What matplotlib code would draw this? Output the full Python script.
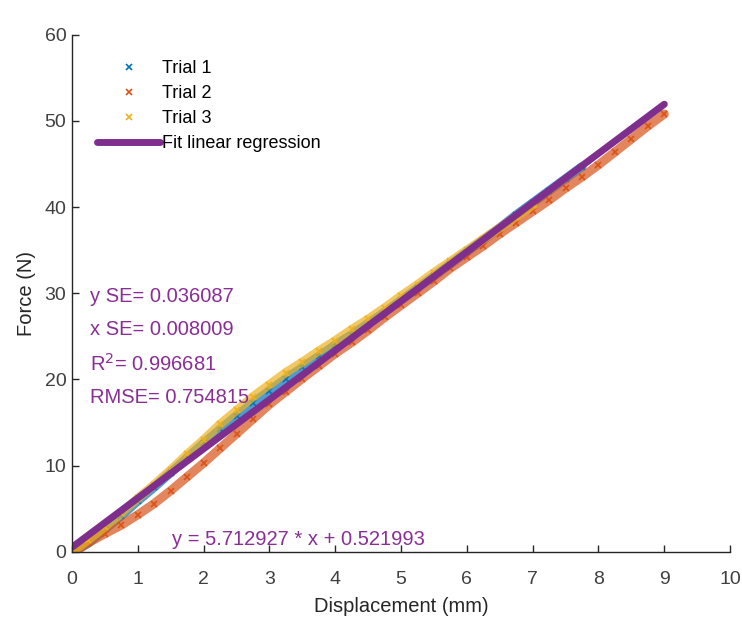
import matplotlib.pyplot as plt

plt.rcParams['font.family'] = ['Liberation Sans', 'DejaVu Sans']

# Displacement (mm) / force (N) readings for the three trials
x1 = [0, 0.25, 0.5, 0.75, 1, 1.25, 1.5, 1.75, 2, 2.25, 2.5, 2.75, 3, 3.25, 3.5, 3.75,
      4, 4.25, 4.5, 4.75, 5, 5.25, 5.5, 5.75, 6, 6.25, 6.5, 6.75, 7, 7.25, 7.5, 7.75]
f1 = [0, 1.0, 2.6, 4.2, 5.9, 7.5, 9.2, 10.9, 12.6, 14.2, 15.8, 17.3, 18.7, 20.1, 21.4, 22.7,
      24.0, 25.2, 26.5, 27.8, 29.2, 30.6, 32.0, 33.4, 34.8, 36.2, 37.6, 39.1, 40.5, 41.9, 43.3, 44.7]

x2 = [0.05, 0.25, 0.5, 0.75, 1, 1.25, 1.5, 1.75, 2, 2.25, 2.5, 2.75, 3, 3.25, 3.5, 3.75,
      4, 4.25, 4.5, 4.75, 5, 5.25, 5.5, 5.75, 6, 6.25, 6.5, 6.75, 7, 7.25, 7.5, 7.75,
      8, 8.25, 8.5, 8.75, 9]
f2 = [0, 1.05, 2.1, 3.1, 4.3, 5.6, 7.1, 8.7, 10.3, 12.0, 13.7, 15.4, 17.1, 18.6, 20.1, 21.55,
      23.0, 24.3, 25.7, 27.2, 28.6, 30.0, 31.4, 32.9, 34.2, 35.5, 36.9, 38.2, 39.5, 40.8, 42.2, 43.5,
      44.9, 46.4, 47.9, 49.4, 50.8]

x3 = [0, 0.25, 0.5, 0.75, 1, 1.25, 1.5, 1.75, 2, 2.25, 2.5, 2.75, 3, 3.25, 3.5, 3.75,
      4, 4.25, 4.5, 4.75, 5, 5.25, 5.5, 5.75, 6, 6.25, 6.5, 6.75, 7]
f3 = [0, 1.4, 2.9, 4.5, 6.2, 7.8, 9.5, 11.3, 13.0, 14.8, 16.4, 18.0, 19.4, 20.8, 22.0, 23.3,
      24.5, 25.8, 27.0, 28.3, 29.7, 31.0, 32.4, 33.7, 35.0, 36.3, 37.6, 38.9, 40.2]

# Linear fit results
slope = 5.712927
intercept = 0.521993
fit_x = [0, 9]
y_se = 0.036087
x_se = 0.008009
r2 = 0.996681
rmse = 0.754815

c_blue = '#0072BD'
c_orange = '#D95319'
c_yellow = '#EDB120'
c_purple = '#7E2F8E'
c_text = '#8A2E96'
c_axis = '#262626'

fig = plt.figure(figsize=(7.42, 6.2), dpi=100)
ax = fig.add_axes([0.097, 0.11, 0.887, 0.834])

for xs, fs, c, lab in [(x1, f1, c_blue, 'Trial 1'),
                       (x2, f2, c_orange, 'Trial 2'),
                       (x3, f3, c_yellow, 'Trial 3')]:
    ax.plot(xs, fs, '-', color=c, lw=6.5, alpha=0.7, solid_capstyle='round')
    ax.plot(xs, fs, 'x', color=c, ms=5, mew=1.2, label=lab, linestyle='none')

fit_y = [slope * v + intercept for v in fit_x]
ax.plot(fit_x, fit_y, '-', color=c_purple, lw=5, label='Fit linear regression',
        solid_capstyle='round')

txt = dict(color=c_text, fontsize=14.5, va='center', ha='left')
ax.text(0.27, 29.6, f'y SE= {y_se:.6f}', **txt)
ax.text(0.27, 25.75, f'x SE= {x_se:.6f}', **txt)
ax.text(0.27, 21.8, f'R$^2$= {r2:.6f}', **txt)
ax.text(0.27, 17.9, f'RMSE= {rmse:.6f}', **txt)
ax.text(1.52, 1.4, f'y = {slope:.6f} * x + {intercept:.6f}', **txt)

ax.set_xlim(0, 10)
ax.set_ylim(0, 60)
ax.set_xticks(range(0, 11))
ax.set_yticks(range(0, 61, 10))
ax.spines['top'].set_visible(False)
ax.spines['right'].set_visible(False)
for s in ('left', 'bottom'):
    ax.spines[s].set_color(c_axis)
    ax.spines[s].set_linewidth(1.0)
ax.tick_params(direction='in', length=5, width=1, colors=c_axis,
               labelcolor='#404040', labelsize=14)
ax.tick_params(axis='x', pad=14)
ax.tick_params(axis='y', pad=4)
ax.set_xlabel('Displacement (mm)', fontsize=14.5, color=c_axis, labelpad=6)
ax.set_ylabel('Force (N)', fontsize=14.5, color=c_axis, labelpad=6)

leg = ax.legend(loc='upper left', bbox_to_anchor=(0.027, 0.965), frameon=False,
                fontsize=13, handlelength=3.5, handletextpad=0.1,
                labelspacing=0.45, borderaxespad=0)

fig.savefig('out.png', dpi=100)
